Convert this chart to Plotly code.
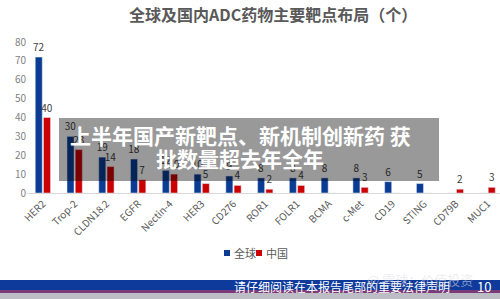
import plotly.graph_objects as go

categories = ["HER2", "Trop-2", "CLDN18.2", "EGFR", "Nectin-4", "HER3", "CD276",
              "ROR1", "FOLR1", "BCMA", "c-Met", "CD19", "STING", "CD79B", "MUC1"]
global_vals = [72, 30, 19, 18, 12, 10, 9, 8, 8, 8, 8, 6, 5, 0, 0]
china_vals = [40, 23, 14, 7, 10, 5, 4, 2, 4, 0, 3, 0, 0, 2, 3]
series_names = ["全球", "中国"]
title_text = "全球及国内ADC药物主要靶点布局（个）"
overlay_lines = ["上半年国产新靶点、新机制创新药 获", "批数量超去年全年"]
footer_text = "请仔细阅读在本报告尾部的重要法律声明"
page_no = "10"
watermark = "雪球：价值投资"

W, H = 500, 299
ML, MR, MT, MB = 27, 0, 42, 106
PW, PH = W - ML - MR, H - MT - MB

def px(x):
    return (x - ML) / PW

def py(y):
    return (H - MB - y) / PH

FONT = "Noto Sans CJK SC, Noto Sans, Arial"
BLUE = "#0B3C93"
RED = "#CC0000"
COLORS = [BLUE, RED]

def labels(vals):
    return [str(v) if v else "" for v in vals]

fig = go.Figure()
for name, vals, col in zip(series_names, [global_vals, china_vals], COLORS):
    fig.add_trace(go.Bar(x=categories, y=vals, name=name,
                         marker_color=col, text=labels(vals),
                         textposition="outside", cliponaxis=False, textangle=0,
                         textfont=dict(size=10, color="#404040"),
                         showlegend=False))

shapes = [
    # overlay box
    dict(type="rect", xref="paper", yref="paper", x0=px(59), x1=px(439),
         y0=py(181), y1=py(118), fillcolor="rgba(0,0,0,0.40)", line_width=0,
         layer="above"),
    # footer blue bar
    dict(type="rect", xref="paper", yref="paper", x0=px(0), x1=px(500),
         y0=py(290), y1=py(280), fillcolor="#0E3A9C", line_width=0, layer="above"),
    dict(type="rect", xref="paper", yref="paper", x0=px(0), x1=px(500),
         y0=py(293), y1=py(290), fillcolor="#7A3A78", line_width=0, layer="above"),
    dict(type="rect", xref="paper", yref="paper", x0=px(0), x1=px(500),
         y0=py(299), y1=py(293), fillcolor="#BDBDC6", line_width=0, layer="above"),
]

annotations = [
    dict(text="<b>" + title_text + "</b>", xref="paper", yref="paper",
         x=px(273), y=py(14), showarrow=False, xanchor="center", yanchor="middle",
         font=dict(size=16, color="#595959", family=FONT)),
    dict(text="<b>" + overlay_lines[0] + "</b>", xref="paper", yref="paper",
         x=px(240), y=py(135), showarrow=False, xanchor="center", yanchor="middle",
         font=dict(size=21, color="white", family=FONT)),
    dict(text="<b>" + overlay_lines[1] + "</b>", xref="paper", yref="paper",
         x=px(240), y=py(158), showarrow=False, xanchor="center", yanchor="middle",
         font=dict(size=21, color="white", family=FONT)),
    dict(text=footer_text, xref="paper", yref="paper",
         x=px(452), y=py(286), showarrow=False, xanchor="right", yanchor="middle",
         font=dict(size=12, color="white", family=FONT)),
    dict(text=page_no, xref="paper", yref="paper",
         x=px(484), y=py(286), showarrow=False, xanchor="center", yanchor="middle",
         font=dict(size=13, color="white", family=FONT)),
    dict(text="@ " + watermark, xref="paper", yref="paper",
         x=px(420), y=py(279), showarrow=False, xanchor="center", yanchor="middle",
         font=dict(size=13, color="rgba(220,220,225,0.55)", family=FONT)),
]

# manual legend (small squares + labels)
leg_x = [227, 259]
for lx, name, col in zip(leg_x, series_names, COLORS):
    shapes.append(dict(type="rect", xref="paper", yref="paper",
                       x0=px(lx - 3), x1=px(lx + 3), y0=py(256), y1=py(250),
                       fillcolor=col, line_width=0))
    annotations.append(dict(text=name, xref="paper", yref="paper",
                            x=px(lx + 5), y=py(253), showarrow=False,
                            xanchor="left", yanchor="middle",
                            font=dict(size=11, color="#595959", family=FONT)))

fig.update_layout(
    width=W, height=H,
    margin=dict(l=ML, r=MR, t=MT, b=MB, pad=0),
    paper_bgcolor="white", plot_bgcolor="white",
    barmode="group", bargap=0.48, bargroupgap=0.15,
    font=dict(family=FONT, color="#595959", size=10),
    showlegend=False,
    uniformtext=dict(minsize=10, mode="show"),
    shapes=shapes, annotations=annotations,
)
fig.update_xaxes(type="category", range=[-0.5, 14.39], tickangle=-45,
                 showline=True, linecolor="#D9D9D9", linewidth=1,
                 showgrid=False, ticks="", tickfont=dict(size=10, color="#595959"))
fig.update_yaxes(range=[0, 80], dtick=10, showgrid=False, zeroline=False,
                 showline=False, ticks="", tickfont=dict(size=10, color="#7F7F7F"))

fig.write_html("out.html")
